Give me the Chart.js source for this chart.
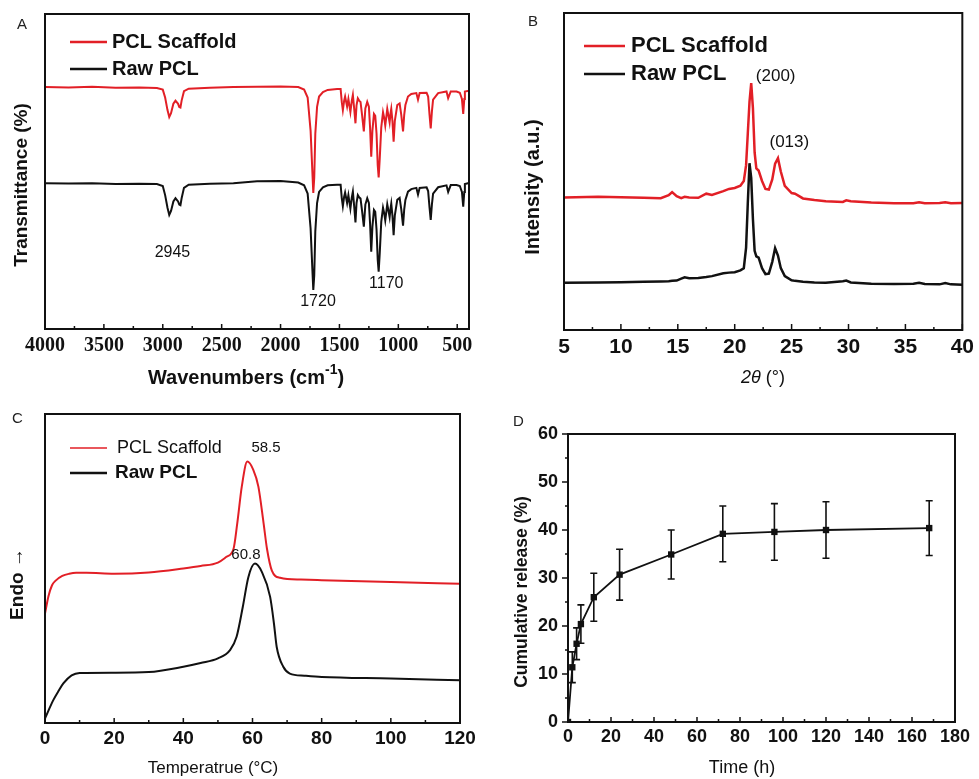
<!DOCTYPE html>
<html>
<head>
<meta charset="utf-8">
<script src="https://cdn.jsdelivr.net/npm/chart.js@4.4.1/dist/chart.umd.min.js"></script>
<style>
  body { margin: 0; background: #fff; }
  #fig { position: relative; width: 979px; height: 779px; }
  canvas { position: absolute; }
  .tag { position: absolute; font: 15px "Liberation Sans", Arial, sans-serif; color: #222; line-height: 17px; }
</style>
</head>
<body>
<div id="fig">
  <canvas id="chartA" width="490" height="390" style="left:0;top:0"></canvas>
  <canvas id="chartB" width="489" height="390" style="left:490px;top:0"></canvas>
  <canvas id="chartC" width="490" height="389" style="left:0;top:390px"></canvas>
  <canvas id="chartD" width="489" height="389" style="left:490px;top:390px"></canvas>
  <div class="tag" style="left:17px;top:15px">A</div>
  <div class="tag" style="left:528px;top:12px">B</div>
  <div class="tag" style="left:12px;top:409px">C</div>
  <div class="tag" style="left:513px;top:412px">D</div>
</div>
<script>
// ---- data ----
// A: FTIR (offset traces, arbitrary units)
let ftirWave = [4000, 3800, 3600, 3400, 3200, 3050, 3000, 2980, 2960, 2945, 2930, 2910, 2892, 2870, 2860, 2850, 2840, 2820, 2780, 2600, 2400, 2200, 2000, 1850, 1800, 1770, 1745, 1730, 1722, 1714, 1705, 1690, 1673, 1640, 1600, 1520, 1490, 1480, 1471, 1460, 1452, 1435, 1424, 1407, 1395, 1386, 1375, 1364, 1355, 1344, 1333, 1321, 1308, 1293, 1280, 1264, 1250, 1240, 1230, 1220, 1207, 1196, 1185, 1175, 1167, 1158, 1145, 1130, 1120, 1111, 1100, 1094, 1085, 1074, 1066, 1060, 1050, 1040, 1030, 1009, 989, 975, 960, 950, 940, 918, 890, 847, 833, 819, 760, 747, 735, 725, 715, 705, 662, 591, 577, 555, 506, 478, 460, 449, 440, 435, 400];
let ftirScaffold = [76.8, 76.7, 76.9, 76.6, 76.7, 76.5, 76.0, 73.5, 69.5, 67.3, 68.5, 71.5, 72.5, 71.5, 70.5, 70.3, 72.5, 75.5, 76.3, 76.6, 76.8, 76.9, 77.0, 76.8, 76.0, 73.5, 63, 50, 43.2, 48, 62, 70.5, 73.8, 75.2, 75.9, 76.2, 76.2, 72, 69.5, 72.5, 73.8, 70.6, 73.0, 68.9, 72.5, 74.3, 70, 65.3, 71, 73.2, 72.5, 72.1, 68, 62.7, 70, 72.1, 70.6, 64, 54.7, 63, 68.3, 67.7, 62, 52, 48.1, 54, 64, 68.8, 67, 64.6, 68, 69.9, 68, 65.6, 68.5, 69.9, 66, 59.5, 66, 71.1, 71.6, 68, 62.7, 68, 71.1, 73.8, 74.6, 74.9, 72.8, 74.9, 75, 73.8, 68, 63.7, 69, 72.8, 74.9, 75.4, 73.3, 75.4, 75.4, 75.0, 73, 68.3, 73, 75.4, 75.6];
let ftirRaw = [46.3, 46.2, 46.3, 46.0, 46.1, 46.0, 45.4, 42.5, 38.5, 36.2, 37.5, 40.5, 41.5, 40.5, 39.5, 39.3, 41.5, 44.8, 45.8, 46.1, 46.3, 46.9, 47.0, 46.5, 45.6, 43, 32, 19, 12.4, 17, 31, 40, 43.5, 45, 45.6, 45.8, 45.8, 41.5, 39, 42, 43.3, 40, 42.5, 38.2, 41.8, 43.6, 39, 33.8, 40, 42.5, 41.8, 41.4, 37.5, 32.5, 39.5, 41.5, 40, 33.5, 24.5, 32.5, 37.8, 37.2, 31.5, 22, 18.2, 24, 34, 38.5, 36.8, 34.5, 37.8, 39.6, 37.8, 35.5, 38.3, 39.8, 36, 29.8, 36, 41, 41.6, 38, 32.8, 38, 41, 43.6, 44.4, 44.8, 42.7, 44.8, 45, 43.8, 38.5, 34.6, 39.5, 43, 45, 45.6, 43.5, 45.7, 45.7, 45.4, 43.5, 38.8, 43.5, 46.0, 46.4];
let ftirTicks = [4000, 3500, 3000, 2500, 2000, 1500, 1000, 500];

// B: XRD
let xrdTheta = [5, 8, 10, 12, 13.5, 14.2, 14.5, 14.9, 15.3, 15.6, 16.0, 16.8, 17.5, 18.0, 19.0, 19.5, 20.0, 20.5, 20.8, 21.0, 21.15, 21.3, 21.45, 21.6, 21.75, 21.9, 22.1, 22.4, 22.7, 23.0, 23.3, 23.55, 23.8, 24.05, 24.4, 25.0, 25.3, 26.0, 27.0, 28.0, 29.5, 29.8, 30.2, 32.0, 34.0, 35.7, 36.2, 36.7, 38.0, 38.5, 39.0, 40.0];
let xrdScaffold = [41.8, 42.0, 41.9, 41.7, 41.6, 42.5, 43.5, 42.2, 41.6, 42.0, 41.8, 41.7, 43.0, 42.6, 43.8, 44.5, 44.8, 45.5, 47, 52, 62, 72, 77.9, 70, 56, 51, 50.3, 47, 44.5, 44.3, 47.5, 52.5, 54.2, 50, 45.5, 43.2, 43.0, 41.5, 41.0, 40.6, 40.4, 40.9, 40.6, 40.2, 40.0, 40.0, 40.3, 40.0, 40.1, 40.3, 40.0, 40.1];
let xrdRaw = [14.9, 15.0, 15.1, 15.2, 15.3, 15.4, 15.5, 15.6, 16.2, 16.6, 16.3, 16.4, 16.7, 17.0, 17.9, 18.1, 18.2, 18.8, 19.5, 26, 40, 52.6, 48, 35, 25, 23.2, 22.8, 19.5, 17.6, 17.8, 21.5, 25.8, 23.5, 19.5, 17.0, 15.7, 15.5, 15.2, 15.0, 14.9, 15.4, 15.6, 15.0, 14.6, 14.5, 14.6, 14.9, 14.5, 14.4, 14.8, 14.4, 14.3];
let xrdTicks = [5, 10, 15, 20, 25, 30, 35, 40];

// C: DSC
let dscTempScaffold = [0, 1, 2, 3, 5, 7, 9, 12, 20, 30, 40, 45, 50, 52.5, 54.5, 55.6, 56.9, 58.5, 60.2, 61.7, 63.2, 64.2, 65.6, 68, 74, 80, 100, 120];
let dscScaffold = [35.4, 41.0, 44.5, 46.0, 47.6, 48.3, 48.6, 48.6, 48.3, 48.7, 50.0, 50.8, 51.9, 53.8, 56.3, 64.7, 76.5, 84.6, 82.0, 76.5, 64.7, 56.3, 49.3, 47.0, 46.4, 46.2, 45.6, 45.1];
let dscTempRaw = [0, 1, 2.4, 4, 5.3, 7.7, 10, 20, 30, 40, 45, 50, 53.5, 55.4, 57.2, 58.8, 60.7, 62.7, 65.1, 66.2, 67.0, 68.9, 70.8, 75, 80, 100, 120];
let dscRaw = [1.4, 4.0, 7.4, 10.5, 12.8, 15.4, 16.2, 16.3, 16.5, 18.2, 19.4, 20.9, 23.6, 27.9, 37.6, 47.2, 51.6, 48.9, 40.8, 32.2, 24.6, 18.2, 16.0, 15.3, 14.9, 14.4, 13.8];
let dscTicks = [0, 20, 40, 60, 80, 100, 120];

// D: cumulative release
let relTime = [0, 2, 4, 6, 12, 24, 48, 72, 96, 120, 168];
let relMean = [0, 11.4, 16.3, 20.4, 26.0, 30.7, 34.9, 39.2, 39.6, 40.0, 40.4];
let relSD = [0, 3.2, 3.3, 4.0, 5.0, 5.3, 5.1, 5.8, 5.9, 5.9, 5.7];
let relXTicks = [0, 20, 40, 60, 80, 100, 120, 140, 160, 180];
let relYTicks = [0, 10, 20, 30, 40, 50, 60];

// ---- helpers ----
const RED = "#e21f26";
const INK = "#111";
const SANS = '"Liberation Sans", Arial, sans-serif';
Chart.defaults.font.family = SANS;
Chart.defaults.color = INK;

function pts(xs, ys) {
  return xs.map((x, i) => ({ x: x, y: ys[i] }));
}

function drawParts(ctx, parts, cx, cy, rotate) {
  ctx.save();
  ctx.translate(cx, cy);
  if (rotate) ctx.rotate(-Math.PI / 2);
  let total = 0;
  parts.forEach(p => { ctx.font = p.font; total += ctx.measureText(p.text).width; });
  let x = -total / 2;
  ctx.textAlign = "left";
  ctx.textBaseline = "middle";
  parts.forEach(p => {
    ctx.font = p.font;
    ctx.fillStyle = INK;
    ctx.fillText(p.text, x, p.dy || 0);
    x += ctx.measureText(p.text).width;
  });
  ctx.restore();
}

function drawTicks(chart, t) {
  let ctx = chart.ctx, a = chart.chartArea, s = chart.scales[t.axis];
  let start = Math.ceil(s.min / t.minor - 1e-9) * t.minor;
  ctx.beginPath();
  for (let v = start; v <= s.max + 1e-9; v += t.minor) {
    let major = Math.abs(v / t.major - Math.round(v / t.major)) < 1e-6;
    let len = major ? t.len : t.minorLen;
    let p = s.getPixelForValue(v);
    if (t.axis === "x") {
      ctx.moveTo(p, a.bottom);
      ctx.lineTo(p, t.out ? a.bottom + len : a.bottom - len);
    } else {
      ctx.moveTo(a.left, p);
      ctx.lineTo(t.out ? a.left - len : a.left + len, p);
    }
  }
  ctx.strokeStyle = INK;
  ctx.lineWidth = 1.5;
  ctx.stroke();
}

function decor(cfg) {
  return {
    id: "decor",
    beforeDatasetsDraw(chart) {
      if (cfg.before) cfg.before(chart);
    },
    afterDraw(chart) {
      let ctx = chart.ctx, a = chart.chartArea;
      ctx.save();
      ctx.strokeStyle = INK;
      ctx.lineWidth = 2;
      ctx.strokeRect(a.left, a.top, a.right - a.left, a.bottom - a.top);
      (cfg.ticks || []).forEach(t => drawTicks(chart, t));
      (cfg.legend || []).forEach(l => {
        ctx.beginPath();
        ctx.moveTo(l.x1, l.y);
        ctx.lineTo(l.x2, l.y);
        ctx.strokeStyle = l.color;
        ctx.lineWidth = l.width;
        ctx.stroke();
        ctx.font = l.font;
        ctx.fillStyle = INK;
        ctx.textAlign = "left";
        ctx.textBaseline = "middle";
        ctx.fillText(l.text, l.tx, l.y);
      });
      (cfg.notes || []).forEach(n => {
        ctx.font = n.font;
        ctx.fillStyle = INK;
        ctx.textAlign = "center";
        ctx.textBaseline = "middle";
        ctx.fillText(n.text, chart.scales.x.getPixelForValue(n.x), chart.scales.y.getPixelForValue(n.y));
      });
      (cfg.titles || []).forEach(t => drawParts(ctx, t.parts, t.x, t.y, t.rotate));
      ctx.restore();
    }
  };
}

function xAxis(min, max, ticks, height, font, pad, reverse) {
  return {
    type: "linear", min: min, max: max, reverse: !!reverse,
    afterFit: s => { s.height = height; },
    afterBuildTicks: s => { s.ticks = ticks.map(v => ({ value: v })); },
    grid: { display: false, drawTicks: false },
    border: { display: false },
    ticks: { autoSkip: false, maxRotation: 0, padding: pad, font: font, color: INK, callback: v => String(v) }
  };
}

function line(data, color, width, extra) {
  return Object.assign({ data: data, borderColor: color, borderWidth: width, pointRadius: 0, tension: 0, fill: false }, extra || {});
}

const base = { responsive: false, animation: false, plugins: { legend: { display: false }, tooltip: { enabled: false } } };

// ---- A: FTIR ----
new Chart(document.getElementById("chartA"), {
  type: "line",
  data: { datasets: [
    line(pts(ftirWave, ftirScaffold), RED, 2),
    line(pts(ftirWave, ftirRaw), INK, 2)
  ] },
  options: Object.assign({}, base, {
    layout: { padding: { left: 45, right: 21, top: 14, bottom: 0 } },
    scales: {
      x: xAxis(400, 4000, ftirTicks, 61, { family: '"Liberation Serif", "Times New Roman", serif', size: 20, weight: "bold" }, 5, true),
      y: { display: false, min: 0, max: 100 }
    }
  }),
  plugins: [decor({
    ticks: [{ axis: "x", major: 500, minor: 250, len: 5, minorLen: 3 }],
    legend: [
      { x1: 70, x2: 107, y: 42, color: RED, width: 2.5, text: "PCL Scaffold", font: "bold 20px " + SANS, tx: 112 },
      { x1: 70, x2: 107, y: 69, color: INK, width: 2.5, text: "Raw PCL", font: "bold 20px " + SANS, tx: 112 }
    ],
    notes: [
      { x: 2918, y: 24.1, text: "2945", font: "16px " + SANS },
      { x: 1682, y: 8.6, text: "1720", font: "16px " + SANS },
      { x: 1102, y: 14.3, text: "1170", font: "16px " + SANS }
    ],
    titles: [
      { x: 22, y: 185, rotate: true, parts: [{ text: "Transmittance (%)", font: "bold 19px " + SANS }] },
      { x: 246, y: 378, parts: [
        { text: "Wavenumbers (cm", font: "bold 20px " + SANS },
        { text: "-1", font: "bold 14px " + SANS, dy: -8 },
        { text: ")", font: "bold 20px " + SANS }
      ] }
    ]
  })]
});

// ---- B: XRD ----
new Chart(document.getElementById("chartB"), {
  type: "line",
  data: { datasets: [
    line(pts(xrdTheta, xrdScaffold), RED, 2.5),
    line(pts(xrdTheta, xrdRaw), INK, 2.5)
  ] },
  options: Object.assign({}, base, {
    layout: { padding: { left: 74, right: 11, top: 13, bottom: 0 } },
    scales: {
      x: xAxis(5, 40, xrdTicks, 60, { size: 21, weight: "bold" }, 5),
      y: { display: false, min: 0, max: 100 }
    }
  }),
  plugins: [decor({
    ticks: [{ axis: "x", major: 5, minor: 2.5, len: 6, minorLen: 3 }],
    legend: [
      { x1: 94, x2: 135, y: 46, color: RED, width: 2.5, text: "PCL Scaffold", font: "bold 22px " + SANS, tx: 141 },
      { x1: 94, x2: 135, y: 74, color: INK, width: 2.5, text: "Raw PCL", font: "bold 22px " + SANS, tx: 141 }
    ],
    notes: [
      { x: 23.6, y: 80, text: "(200)", font: "17px " + SANS },
      { x: 24.8, y: 59.1, text: "(013)", font: "17px " + SANS }
    ],
    titles: [
      { x: 43, y: 187, rotate: true, parts: [{ text: "Intensity (a.u.)", font: "bold 20px " + SANS }] },
      { x: 273, y: 378, parts: [
        { text: "2θ", font: "italic 18px " + SANS },
        { text: " (°)", font: "18px " + SANS }
      ] }
    ]
  })]
});

// ---- C: DSC ----
new Chart(document.getElementById("chartC"), {
  type: "line",
  data: { datasets: [
    line(pts(dscTempScaffold, dscScaffold), RED, 2, { cubicInterpolationMode: "monotone" }),
    line(pts(dscTempRaw, dscRaw), INK, 2, { cubicInterpolationMode: "monotone" })
  ] },
  options: Object.assign({}, base, {
    layout: { padding: { left: 45, right: 30, top: 24, bottom: 0 } },
    scales: {
      x: xAxis(0, 120, dscTicks, 56, { size: 19, weight: "bold" }, 4),
      y: { display: false, min: 0, max: 100 }
    }
  }),
  plugins: [decor({
    ticks: [{ axis: "x", major: 20, minor: 10, len: 5, minorLen: 3 }],
    legend: [
      { x1: 70, x2: 107, y: 58, color: RED, width: 1.5, text: "PCL Scaffold", font: "18px " + SANS, tx: 117 },
      { x1: 70, x2: 107, y: 83, color: INK, width: 2.5, text: "Raw PCL", font: "bold 19px " + SANS, tx: 115 }
    ],
    notes: [
      { x: 63.9, y: 88.9, text: "58.5", font: "15px " + SANS },
      { x: 58.1, y: 54.3, text: "60.8", font: "15px " + SANS }
    ],
    titles: [
      { x: 18, y: 194, rotate: true, parts: [{ text: "Endo →", font: "bold 19px " + SANS }] },
      { x: 213, y: 378, parts: [{ text: "Temperatrue (°C)", font: "17px " + SANS }] }
    ]
  })]
});

// ---- D: release ----
function errorBars(chart) {
  let ctx = chart.ctx, sx = chart.scales.x, sy = chart.scales.y;
  ctx.save();
  ctx.strokeStyle = INK;
  ctx.lineWidth = 1.6;
  ctx.beginPath();
  relTime.forEach((t, i) => {
    if (!relSD[i]) return;
    let px = sx.getPixelForValue(t);
    let top = sy.getPixelForValue(relMean[i] + relSD[i]);
    let bot = sy.getPixelForValue(relMean[i] - relSD[i]);
    ctx.moveTo(px, top); ctx.lineTo(px, bot);
    ctx.moveTo(px - 3.5, top); ctx.lineTo(px + 3.5, top);
    ctx.moveTo(px - 3.5, bot); ctx.lineTo(px + 3.5, bot);
  });
  ctx.stroke();
  ctx.restore();
}

new Chart(document.getElementById("chartD"), {
  type: "line",
  data: { datasets: [
    line(pts(relTime, relMean), INK, 1.8, { pointRadius: 4.5, pointStyle: "rect", pointBackgroundColor: INK, pointBorderColor: INK, pointBorderWidth: 0 })
  ] },
  options: Object.assign({}, base, {
    layout: { padding: { left: 0, right: 24, top: 44, bottom: 0 } },
    scales: {
      x: xAxis(0, 180, relXTicks, 57, { size: 18, weight: "bold" }, 4),
      y: {
        type: "linear", min: 0, max: 60,
        afterFit: s => { s.width = 78; },
        afterBuildTicks: s => { s.ticks = relYTicks.map(v => ({ value: v })); },
        grid: { display: false, drawTicks: false },
        border: { display: false },
        ticks: { padding: 10, font: { size: 18, weight: "bold" }, color: INK, callback: v => String(v) }
      }
    }
  }),
  plugins: [decor({
    before: errorBars,
    ticks: [
      { axis: "x", major: 20, minor: 10, len: 5, minorLen: 3 },
      { axis: "y", major: 10, minor: 5, len: 6, minorLen: 3, out: true }
    ],
    titles: [
      { x: 32, y: 202, rotate: true, parts: [{ text: "Cumulative release (%)", font: "bold 17.5px " + SANS }] },
      { x: 252, y: 378, parts: [{ text: "Time (h)", font: "18px " + SANS }] }
    ]
  })]
});
</script>
</body>
</html>
